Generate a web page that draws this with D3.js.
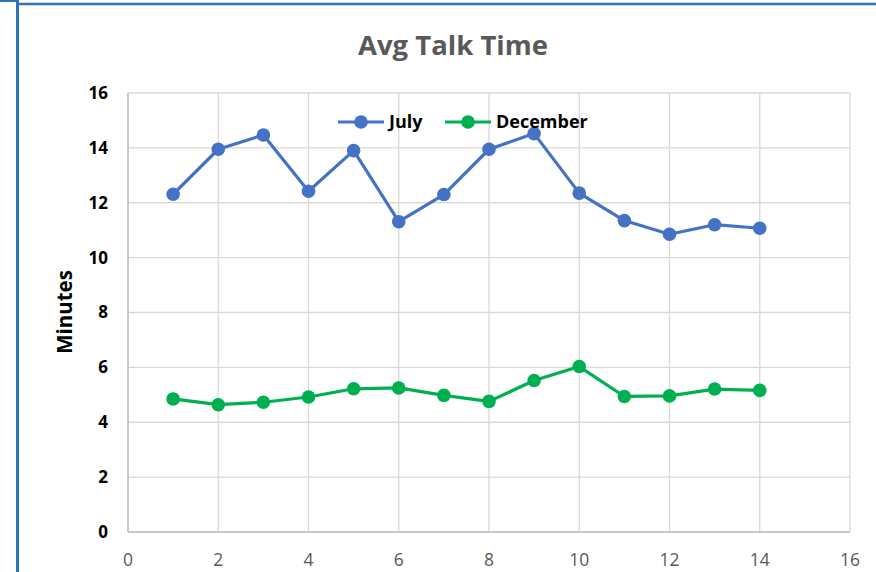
<!DOCTYPE html>
<html>
<head>
<meta charset="utf-8">
<script src="https://cdn.jsdelivr.net/npm/d3@7"></script>
<style>
  body { margin: 0; background: #fff; }
  svg { display: block; font-family: "Open Sans", "Noto Sans", sans-serif; }
</style>
</head>
<body>
<svg width="876" height="572"></svg>
<script>
// values
var days = [1, 2, 3, 4, 5, 6, 7, 8, 9, 10, 11, 12, 13, 14];
var july = [12.31, 13.95, 14.47, 12.42, 13.9, 11.31, 12.3, 13.95, 14.52, 12.35, 11.35, 10.85, 11.2, 11.07];
var december = [4.85, 4.64, 4.73, 4.92, 5.22, 5.25, 4.98, 4.76, 5.52, 6.03, 4.94, 4.96, 5.21, 5.16];
var xTicks = [0, 2, 4, 6, 8, 10, 12, 14, 16];
var yTicks = [0, 2, 4, 6, 8, 10, 12, 14, 16];
var seriesNames = ["July", "December"];
var colors = ["#4472C4", "#00B050"];

var svg = d3.select("svg");

// excel-ish selection frame
svg.append("line").attr("x1", 0).attr("x2", 16).attr("y1", 1).attr("y2", 1)
  .attr("stroke", "#2E75B6").attr("stroke-width", 2);
svg.append("line").attr("x1", 17.5).attr("x2", 17.5).attr("y1", 0).attr("y2", 572)
  .attr("stroke", "#2E75B6").attr("stroke-width", 3);
svg.append("line").attr("x1", 17).attr("x2", 876).attr("y1", 4).attr("y2", 4)
  .attr("stroke", "#2E75B6").attr("stroke-width", 2.5);

var plotL = 128, plotR = 850, plotT = 93, plotB = 532;

var x = d3.scaleLinear().domain([0, 16]).range([plotL, plotR]);
var y = d3.scaleLinear().domain([0, 16]).range([plotB, plotT]);

// grid
svg.append("g")
  .selectAll("line")
  .data(xTicks)
  .enter().append("line")
  .attr("x1", d => x(d)).attr("x2", d => x(d))
  .attr("y1", plotT).attr("y2", plotB)
  .attr("stroke", "#d9d9d9").attr("stroke-width", 1.3);

svg.append("g")
  .selectAll("line")
  .data(yTicks)
  .enter().append("line")
  .attr("x1", plotL).attr("x2", plotR)
  .attr("y1", d => y(d)).attr("y2", d => y(d))
  .attr("stroke", "#d9d9d9").attr("stroke-width", 1.3);

// axis lines
svg.append("line").attr("x1", plotL).attr("x2", plotR).attr("y1", plotB).attr("y2", plotB)
  .attr("stroke", "#bfbfbf").attr("stroke-width", 1.5);
svg.append("line").attr("x1", plotL).attr("x2", plotL).attr("y1", plotT).attr("y2", plotB)
  .attr("stroke", "#bfbfbf").attr("stroke-width", 1.5);

// tick labels
svg.append("g")
  .selectAll("text")
  .data(yTicks)
  .enter().append("text")
  .attr("x", 108).attr("y", d => y(d))
  .attr("dy", "0.35em")
  .attr("text-anchor", "end")
  .attr("font-size", 17).attr("font-weight", "bold")
  .attr("fill", "#000")
  .text(d => d);

svg.append("g")
  .selectAll("text")
  .data(xTicks)
  .enter().append("text")
  .attr("x", d => x(d)).attr("y", 560)
  .attr("dy", "0.35em")
  .attr("text-anchor", "middle")
  .attr("font-size", 17.5)
  .attr("fill", "#595959")
  .text(d => d);

// titles
svg.append("text")
  .attr("x", 453).attr("y", 45).attr("dy", "0.35em")
  .attr("text-anchor", "middle")
  .attr("font-size", 27.5).attr("font-weight", "bold")
  .attr("fill", "#595959")
  .text("Avg Talk Time");

svg.append("text")
  .attr("transform", "translate(65,312) rotate(-90)")
  .attr("dy", "0.35em")
  .attr("text-anchor", "middle")
  .attr("font-size", 20.5).attr("font-weight", "bold")
  .attr("fill", "#000")
  .text("Minutes");

// series
var line = d3.line()
  .x((d, i) => x(days[i]))
  .y(d => y(d));

[july, december].forEach(function(vals, k) {
  svg.append("path")
    .datum(vals)
    .attr("d", line)
    .attr("fill", "none")
    .attr("stroke", colors[k])
    .attr("stroke-width", 3.2)
    .attr("stroke-linejoin", "round");

  svg.append("g")
    .selectAll("circle")
    .data(vals)
    .enter().append("circle")
    .attr("cx", (d, i) => x(days[i]))
    .attr("cy", d => y(d))
    .attr("r", 6.8)
    .attr("fill", colors[k]);
});

// legend
var legendX = [338, 445];
var legend = svg.append("g")
  .selectAll("g")
  .data(seriesNames)
  .enter().append("g")
  .attr("transform", (d, i) => "translate(" + legendX[i] + ",122)");

legend.append("line")
  .attr("x1", 0).attr("x2", 46)
  .attr("stroke", (d, i) => colors[i]).attr("stroke-width", 3.2);
legend.append("circle")
  .attr("cx", 23).attr("r", 6.8)
  .attr("fill", (d, i) => colors[i]);
legend.append("text")
  .attr("x", 51).attr("dy", "0.35em")
  .attr("font-size", 18).attr("font-weight", "bold")
  .attr("fill", "#000")
  .text(d => d);
</script>
</body>
</html>
